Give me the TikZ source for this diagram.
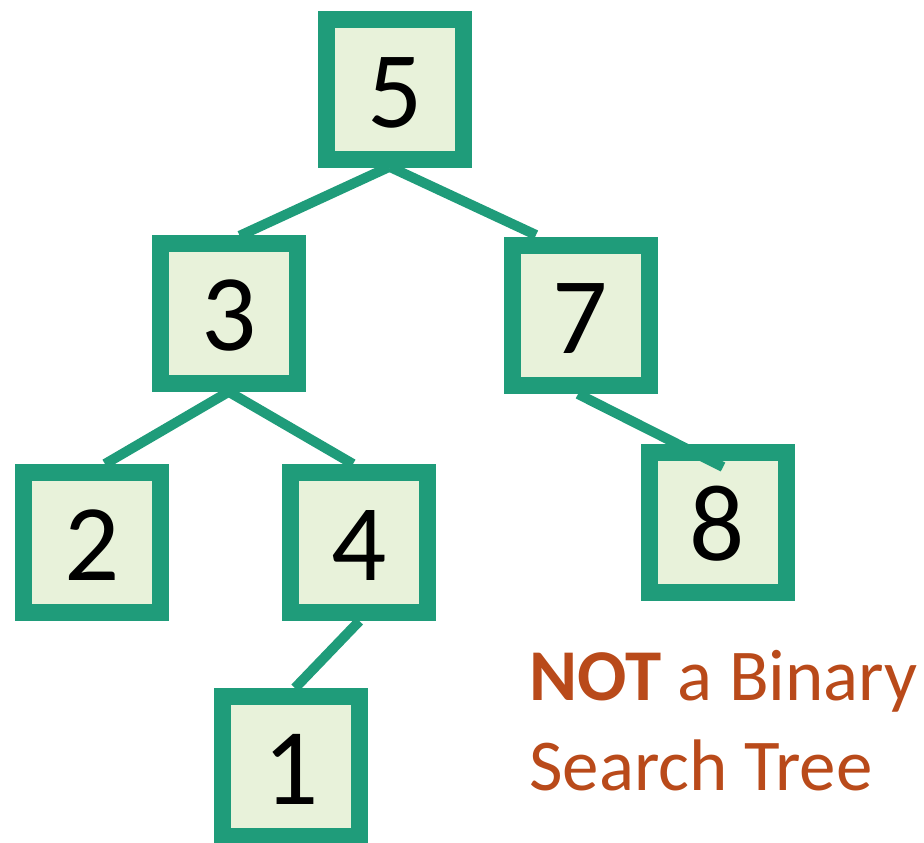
\documentclass[tikz,border=0pt]{standalone}
\usepackage{fontspec}
\setmainfont{Carlito}
\usetikzlibrary{calc}
\definecolor{tgreen}{HTML}{1F9C7A}
\definecolor{tfill}{HTML}{E8F2DA}
\definecolor{torange}{HTML}{B94A1A}
\begin{document}
\begin{tikzpicture}[x=1pt,y=-1pt,
  tbox/.style={draw=tgreen, fill=tfill, line width=17pt, minimum width=137pt,
    minimum height=140pt, inner sep=0pt, text height=75pt, text depth=0pt,
    font=\fontsize{109}{109}\selectfont},
  tedge/.style={draw=tgreen, line width=10pt},
  caption/.style={anchor=base west, inner sep=0pt, text=torange,
    font=\fontsize{73}{86}\selectfont}]
\useasboundingbox (0,0) rectangle (924,843);
\node[tbox] (n5) at (395,89.5) {5};
\node[tbox] (n3) at (228.7,313.3) {3};
\node[tbox] (n7) at (580.5,315.5) {7};
\node[tbox] (n2) at (92.3,542.5) {2};
\node[tbox] (n4) at (359.4,542.5) {4};
\node[tbox] (n8) at (717.5,522.5) {8};
\node[tbox] (n1) at (291,766.5) {1};
\draw[tedge] ($(n5.south)+(-6,-1)$) -- ($(n3.north)+(11,1)$);
\draw[tedge] ($(n5.south)+(-5,-1)$) -- ($(n7.north)+(-44.5,-2)$);
\draw[tedge] ($(n3.south)+(0,0)$) -- ($(n2.north)+(12.7,0)$);
\draw[tedge] ($(n3.south)+(0,0)$) -- ($(n4.north)+(-6.4,0)$);
\draw[tedge] ($(n7.south)+(-2.5,0)$) -- ($(n8.north)+(5.5,23)$);
\draw[tedge] ($(n4.south)+(0,0)$) -- ($(n1.north)+(4,0)$);
\node[caption] (c1) at (529,700) {\textbf{NOT} a Binary};
\node[caption] (c2) at (529,790) {Search Tree};
\end{tikzpicture}
\end{document}
